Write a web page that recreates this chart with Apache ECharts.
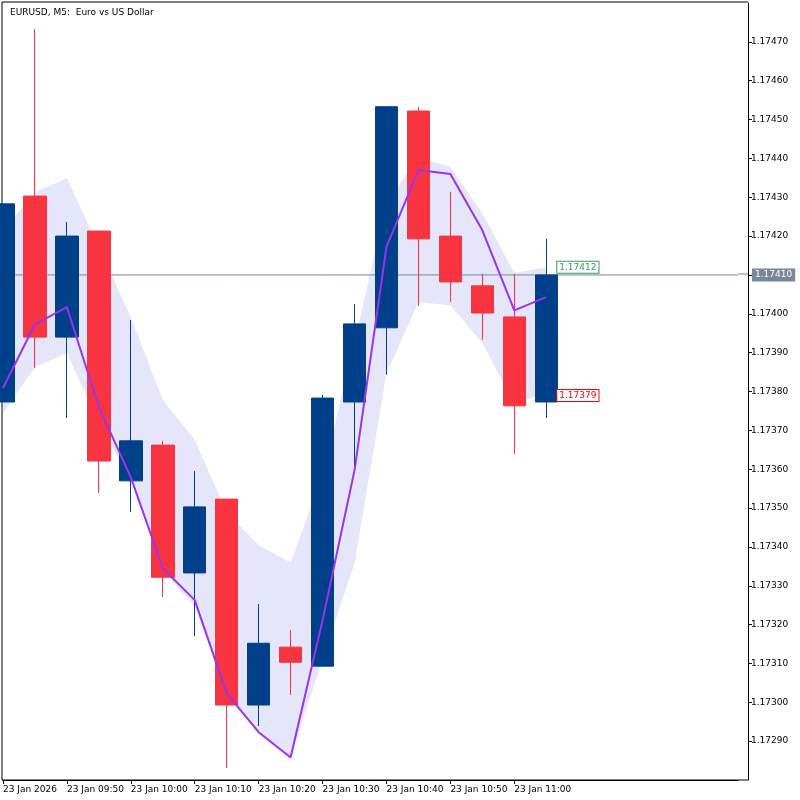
<!DOCTYPE html>
<html>
<head>
<meta charset="utf-8">
<script src="https://cdn.jsdelivr.net/npm/echarts@6/dist/echarts.min.js"></script>
<style>
  html, body { margin: 0; padding: 0; background: #fff; }
  #main { width: 800px; height: 800px; }
</style>
</head>
<body>
<div id="main"></div>
<script>
// 5-minute candles, 23 Jan 2026
var categories = ['23 Jan 2026', '23 Jan 09:45', '23 Jan 09:50', '23 Jan 09:55', '23 Jan 10:00', '23 Jan 10:05',
  '23 Jan 10:10', '23 Jan 10:15', '23 Jan 10:20', '23 Jan 10:25', '23 Jan 10:30', '23 Jan 10:35',
  '23 Jan 10:40', '23 Jan 10:45', '23 Jan 10:50', '23 Jan 10:55', '23 Jan 11:00', '23 Jan 11:05',
  '', '', '', '', '', ''];

// [open, close, low, high]
var candles = [
  [1.173773, 1.174283, 1.173773, 1.174283],
  [1.174303, 1.173940, 1.173861, 1.174733],
  [1.173940, 1.174200, 1.173732, 1.174236],
  [1.174213, 1.173621, 1.173539, 1.174213],
  [1.173570, 1.173673, 1.173490, 1.173984],
  [1.173662, 1.173322, 1.173271, 1.173673],
  [1.173333, 1.173503, 1.173170, 1.173595],
  [1.173523, 1.172993, 1.172831, 1.173523],
  [1.172993, 1.173152, 1.172939, 1.173253],
  [1.173142, 1.173103, 1.173019, 1.173186],
  [1.173093, 1.173783, 1.173093, 1.173791],
  [1.173773, 1.173974, 1.173606, 1.174025],
  [1.173964, 1.174533, 1.173843, 1.174533],
  [1.174522, 1.174193, 1.174020, 1.174533],
  [1.174200, 1.174082, 1.174030, 1.174314],
  [1.174072, 1.174002, 1.173933, 1.174103],
  [1.173992, 1.173763, 1.173639, 1.174103],
  [1.173773, 1.174100, 1.173732, 1.174193]
];

var maLine = [1.173809, 1.173973, 1.174017, 1.173760, 1.173579, 1.173345, 1.173263, 1.173023, 1.172923,
  1.172858, 1.173211, 1.173597, 1.174172, 1.174370, 1.174360, 1.174215, 1.174009, 1.174043];
var bandUpper = [1.174215, 1.174313, 1.174349, 1.174172, 1.173991, 1.173778, 1.173675, 1.173489, 1.173404,
  1.173360, 1.173584, 1.173927, 1.174285, 1.174403, 1.174378, 1.174259, 1.174105, 1.174120];
var bandLower = [1.173744, 1.173863, 1.173899, 1.173718, 1.173572, 1.173340, 1.173245, 1.173031, 1.172923,
  1.172858, 1.173111, 1.173358, 1.173847, 1.174030, 1.174022, 1.173924, 1.173770, 1.173796];

var lastPrice = 1.17410;
var askPrice = 1.17412;
var bidPrice = 1.17379;

var bandWidth = bandUpper.map(function (v, i) { return v - bandLower[i]; });
var priceLine = categories.map(function () { return lastPrice; });

var myChart = echarts.init(document.getElementById('main'));

var option = {
  animation: false,
  backgroundColor: '#fff',
  textStyle: { fontFamily: 'DejaVu Sans' },
  title: {
    text: 'EURUSD, M5:  Euro vs US Dollar',
    left: 5, top: 3,
    textStyle: { fontSize: 9, fontWeight: 'normal', color: '#000', fontFamily: 'DejaVu Sans' }
  },
  grid: { left: 2, right: 62, top: 3, bottom: 20, show: false },
  xAxis: {
    type: 'category',
    data: categories,
    boundaryGap: false,
    axisLine: { lineStyle: { color: '#000' } },
    axisTick: {
      length: 4, lineStyle: { color: '#000' },
      interval: function (i) { return i % 2 === 0 && i <= 16; }
    },
    axisLabel: {
      interval: function (i) { return i % 2 === 0 && i <= 16; },
      align: 'left', margin: 5, fontSize: 9, color: '#000'
    },
    splitLine: { show: false }
  },
  yAxis: {
    type: 'value',
    position: 'right',
    offset: 10,
    min: 1.1728, max: 1.1748, interval: 0.0001,
    axisLine: { show: true, lineStyle: { color: '#000' } },
    axisTick: { show: true, length: 4, lineStyle: { color: '#000' } },
    axisLabel: {
      showMinLabel: false, showMaxLabel: false,
      fontSize: 9, color: '#000', margin: 3,
      formatter: function (v) { return v.toFixed(5); }
    },
    splitLine: { show: false }
  },
  series: [
    {
      type: 'line', data: bandLower, stack: 'band', symbol: 'none',
      lineStyle: { opacity: 0 }, z: 1
    },
    {
      type: 'line', data: bandWidth, stack: 'band', symbol: 'none',
      lineStyle: { opacity: 0 }, areaStyle: { color: '#e6e6fa', opacity: 1 }, z: 1
    },
    {
      type: 'line', data: priceLine, symbol: 'none', z: 2, silent: true,
      lineStyle: { color: '#778899', width: 1 },
      endLabel: {
        show: true, distance: 14,
        formatter: function () { return lastPrice.toFixed(5); },
        backgroundColor: '#778899', color: '#fff', fontSize: 9, padding: [2, 3]
      }
    },
    {
      type: 'candlestick',
      data: candles,
      barWidth: 23,
      clip: true,
      z: 3,
      itemStyle: {
        color: '#003f8a', color0: '#f7343f',
        borderColor: '#003f8a', borderColor0: '#f7343f', borderWidth: 1
      },
      markPoint: {
        symbol: 'rect', symbolSize: 0,
        data: [
          {
            coord: [17, askPrice],
            label: {
              show: true, position: 'right', distance: 11,
              formatter: askPrice.toFixed(5), color: '#2e9e5e', fontSize: 9,
              borderColor: '#2e9e5e', borderWidth: 1, backgroundColor: '#fff', padding: [1, 2]
            }
          },
          {
            coord: [17, bidPrice],
            label: {
              show: true, position: 'right', distance: 11,
              formatter: bidPrice.toFixed(5), color: '#f00', fontSize: 9,
              borderColor: '#f00', borderWidth: 1, backgroundColor: '#fff', padding: [1, 2]
            }
          }
        ]
      }
    },
    {
      type: 'line', data: maLine, symbol: 'none', z: 4,
      lineStyle: { color: '#9933ee', width: 2 }
    }
  ],
  graphic: [
    { type: 'line', shape: { x1: 2, y1: 2, x2: 748, y2: 2 }, style: { stroke: '#000', lineWidth: 1 } },
    { type: 'line', shape: { x1: 2, y1: 2, x2: 2, y2: 780 }, style: { stroke: '#000', lineWidth: 1 } },
    { type: 'line', shape: { x1: 2, y1: 780, x2: 748, y2: 780 }, style: { stroke: '#000', lineWidth: 1 } },
    { type: 'line', shape: { x1: 738, y1: 274, x2: 748, y2: 274 }, style: { stroke: '#778899', lineWidth: 1 } }
  ]
};

myChart.setOption(option);
</script>
</body>
</html>
